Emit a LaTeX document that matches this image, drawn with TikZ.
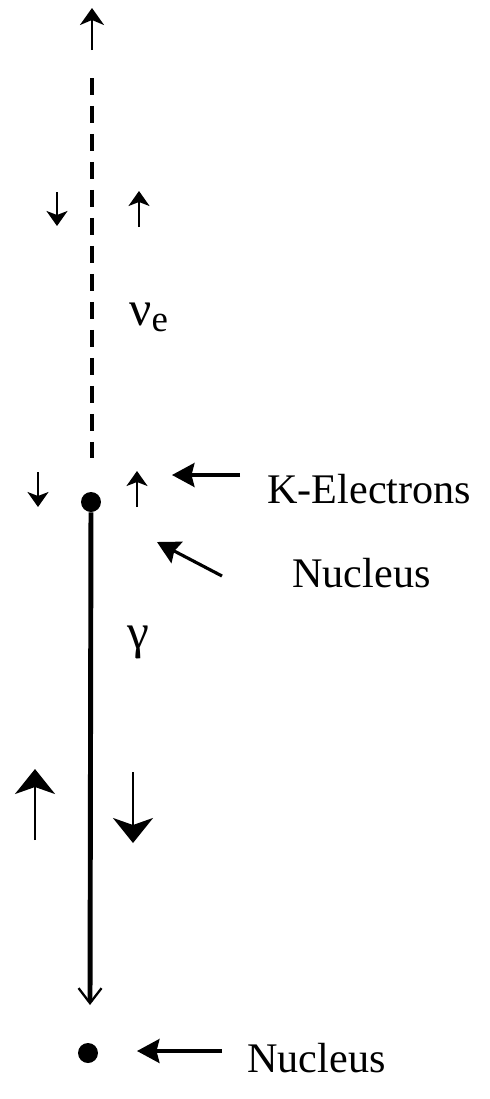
\documentclass[tikz,border=0pt]{standalone}
\usepackage{fontspec}
\setmainfont{Liberation Serif}
\usetikzlibrary{arrows.meta}
\begin{document}
\begin{tikzpicture}[x=0.02cm, y=-0.02cm,
    lbl/.style={inner sep=0pt, anchor=base west, font=\fontsize{24}{27}\selectfont},
    greek/.style={inner sep=0pt, anchor=base west, font=\fontsize{28}{30}\selectfont},
    dot/.style={circle, fill, inner sep=0pt, minimum size=0.4cm},
    spin/.style={line width=1.2pt, -{Stealth[length=0.3cm, width=0.42cm, inset=0.08cm]}},
    bigspin/.style={line width=1.4pt, -{Stealth[length=0.5cm, width=0.8cm, inset=0.14cm]}},
    pointer/.style={line width=1.8pt, -{Stealth[length=0.45cm, width=0.48cm, inset=0.06cm]}}]
    \useasboundingbox (0,0) rectangle (490,1099);

    % the line and its two nuclei
    \coordinate (top) at (92,8);
    \coordinate (top0) at (92,50);
    \coordinate (d0) at (92,78);
    \coordinate (d1) at (92,458);
    \node[dot] (n1) at (91,502) {};
    \coordinate (g) at (90,1005);
    \node[dot] (n2) at (88,1053) {};

    \draw[line width=1.4pt, -{Stealth[length=0.34cm, width=0.48cm, inset=0.1cm]}] (top0) -- (top);
    \draw[line width=2.8pt, dash pattern=on 0.34cm off 0.22cm] (d0) -- (d1);
    \draw[line width=2.8pt, -{Straight Barb[length=0.3cm, width=0.46cm, line width=1.3pt]}] (n1) -- (g);

    % labels
    \node[greek] (nu) at (129,325) {ν\raisebox{-0.3ex}{\fontsize{21}{22}\selectfont e}};
    \node[greek] (ga) at (127,648) {γ};
    \node[lbl] (kel) at (267,503) {K-Electrons};
    \node[lbl] (nuc1) at (292,587) {Nucleus};
    \node[lbl] (nuc2) at (247,1072) {Nucleus};

    % spins
    \coordinate (s1a) at (57,192);  \coordinate (s1b) at (57,226);
    \coordinate (s2a) at (139,227); \coordinate (s2b) at (139,191);
    \coordinate (s3a) at (38,472);  \coordinate (s3b) at (38,507);
    \coordinate (s4a) at (137,507); \coordinate (s4b) at (137,471);
    \coordinate (b1a) at (35,840);  \coordinate (b1b) at (35,769);
    \coordinate (b2a) at (133,772); \coordinate (b2b) at (133,843);
    \path[spin]
        (s1a) edge (s1b)
        (s2a) edge (s2b)
        (s3a) edge (s3b)
        (s4a) edge (s4b);
    \path[bigspin]
        (b1a) edge (b1b)
        (b2a) edge (b2b);

    % pointers
    \coordinate (p1a) at (240,475); \coordinate (p1b) at (172,475);
    \coordinate (p2a) at (222,576); \coordinate (p2b) at (157,542);
    \coordinate (p3a) at (222,1051); \coordinate (p3b) at (137,1051);
    \path[pointer]
        (p1a) edge (p1b)
        (p2a) edge (p2b)
        (p3a) edge (p3b);
\end{tikzpicture}
\end{document}
